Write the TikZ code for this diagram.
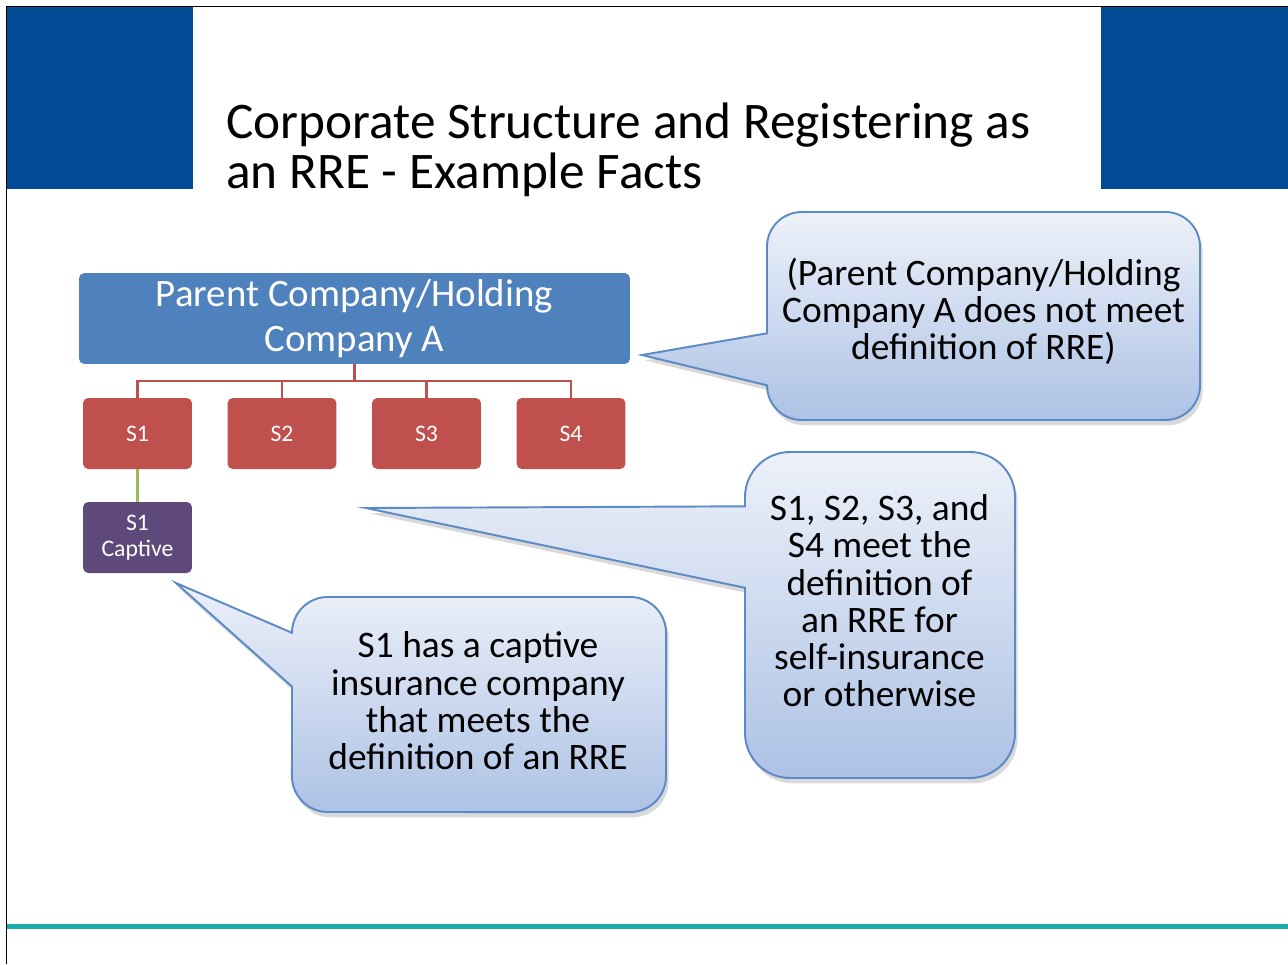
\documentclass[tikz,border=0pt]{standalone}
\usepackage{fontspec}
\setmainfont{Carlito}
\usetikzlibrary{shadows}

\definecolor{Bandeau}{HTML}{004B93}
\definecolor{Parent}{HTML}{4F81BD}
\definecolor{Filiale}{HTML}{C0504D}
\definecolor{Captive}{HTML}{5F497A}
\definecolor{Lien}{HTML}{9BBB59}
\definecolor{BulleHaut}{HTML}{EDF1F9}
\definecolor{BulleBas}{HTML}{ADC2E5}
\definecolor{BulleBord}{HTML}{5B8AC6}
\definecolor{Pied}{HTML}{1AADA8}

\tikzset{
  boite/.style={rounded corners=3pt, text=white, inner sep=0pt, align=center},
  filiale/.style={boite, fill=Filiale, minimum width=2.18cm, minimum height=1.42cm,
    font=\fontsize{13.5}{14.7}\selectfont},
  bulle/.style={top color=BulleHaut, bottom color=BulleBas, draw=BulleBord, line width=1.1pt,
    drop shadow={shadow xshift=1.5pt, shadow yshift=-3pt, opacity=0.3}},
  texte bulle/.style={align=center, inner sep=0pt, font=\fontsize{21.3}{21.2}\selectfont},
  arbre/.style={draw=Filiale, line width=1.4pt},
}

\begin{document}
\begin{tikzpicture}[x=0.02cm, y=-0.02cm]

 \useasboundingbox (0,0) rectangle (1288,964);

 %%%%%%%%%% Bandeaux bleus %%%%%%%%%%
 \fill [color=Bandeau] (7,7) rectangle (193,189);
 \fill [color=Bandeau] (1101,7) rectangle (1288,189);

 % Cadre
 \draw [line width=0.9pt] (6.5,964) -- (6.5,6.5) -- (1288,6.5);

 %%%%%%%%%% Titre %%%%%%%%%%
 \node [anchor=base west, inner sep=0pt, font=\fontsize{29.2}{28.3}\selectfont] (titre1) at (226,138) {Corporate Structure and Registering as};
 \node [anchor=base west, inner sep=0pt, font=\fontsize{29.2}{28.3}\selectfont] (titre2) at (226,188) {an RRE - Example Facts};

 %%%%%%%%%% Organigramme %%%%%%%%%%
 \node [boite, fill=Parent, minimum width=11.02cm, minimum height=1.82cm, font=\fontsize{22.1}{25.5}\selectfont] (parent) at (354.5,318.5) {Parent Company/Holding\\Company A};

 \node [filiale] (s1) at (137.5,433.5) {S1};
 \node [filiale] (s2) at (282,433.5) {S2};
 \node [filiale] (s3) at (426.5,433.5) {S3};
 \node [filiale] (s4) at (571,433.5) {S4};
 \node [filiale, fill=Captive] (captive) at (137.5,537.5) {S1\\Captive};

 % Liens
 \coordinate (bus) at (354.5,381);
 \draw [arbre] (parent.south) -- (bus);
 \draw [arbre] (s1.north) |- (bus) -| (s4.north);
 \draw [arbre] (s2.north) -- (s2.north |- bus);
 \draw [arbre] (s3.north) -- (s3.north |- bus);
 \draw [draw=Lien, line width=1.2pt] (s1.south) -- (captive.north);

 %%%%%%%%%% Bulles %%%%%%%%%%
 \coordinate (pointeA) at (642,355);
 \coordinate (pointeB) at (366,508);
 \coordinate (pointeC) at (176,583);

 \path [bulle] (767,333.3) -- (767,246.7) arc[start angle=180, end angle=90, radius=0.694cm]
   -- (1165.3,212) arc[start angle=90, end angle=0, radius=0.694cm]
   -- (1200,385.3) arc[start angle=0, end angle=-90, radius=0.694cm]
   -- (801.7,420) arc[start angle=270, end angle=180, radius=0.694cm]
   -- (pointeA) -- cycle;

 \path [bulle] (745,506.3) -- (745,497) arc[start angle=180, end angle=90, radius=0.9cm]
   -- (970,452) arc[start angle=90, end angle=0, radius=0.9cm]
   -- (1015,733) arc[start angle=0, end angle=-90, radius=0.9cm]
   -- (790,778) arc[start angle=270, end angle=180, radius=0.9cm]
   -- (745,587.8) -- (pointeB) -- cycle;

 \path [bulle] (292,632.8) arc[start angle=180, end angle=90, radius=0.717cm]
   -- (630.2,597) arc[start angle=90, end angle=0, radius=0.717cm]
   -- (666,776.2) arc[start angle=0, end angle=-90, radius=0.717cm]
   -- (327.8,812) arc[start angle=270, end angle=180, radius=0.717cm]
   -- (292,686.6) -- (pointeC) -- cycle;

 \node [texte bulle] (texteA) at (983.5,311.5) {(Parent Company/Holding\\Company A does not meet\\definition of RRE)};
 \node [texte bulle] (texteB) at (879.5,601) {S1, S2, S3, and\\S4 meet the\\definition of\\an RRE for\\self-insurance\\or otherwise};
 \node [texte bulle] (texteC) at (478,701) {S1 has a captive\\insurance company\\that meets the\\definition of an RRE};

 %%%%%%%%%% Pied %%%%%%%%%%
 \draw [color=Pied, line width=3.2pt] (7,926.5) -- (1288,926.5);

\end{tikzpicture}
\end{document}
